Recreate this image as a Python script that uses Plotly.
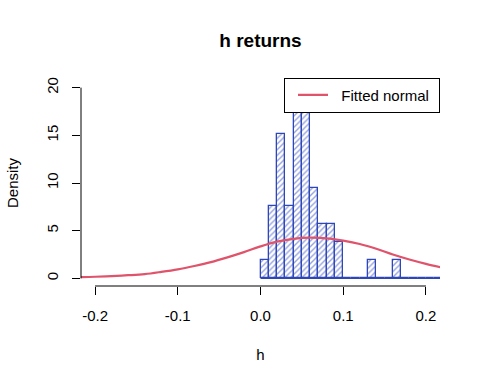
import plotly.graph_objects as go

# Histogram (density) bins: left edges, width 0.01
bin_left = [0.00, 0.01, 0.02, 0.03, 0.04, 0.05, 0.06, 0.07, 0.08, 0.09, 0.10,
            0.11, 0.12, 0.13, 0.14, 0.15, 0.16, 0.17, 0.18, 0.19, 0.20, 0.21]
bin_width = 0.01
density = [1.89, 7.55, 15.09, 7.55, 18.87, 18.87, 9.43, 5.66, 5.66, 3.77, 0.0,
           0.0, 0.0, 1.89, 0.0, 0.0, 1.89, 0.0, 0.0, 0.0, 0.0, 0.0]

# Fitted normal curve
curve_x = [-0.218, -0.20, -0.18, -0.16, -0.14, -0.12, -0.10, -0.08, -0.06, -0.04,
           -0.02, 0.00, 0.02, 0.04, 0.06, 0.08, 0.10, 0.12, 0.14, 0.16, 0.18,
           0.20, 0.218]
curve_y = [0.13, 0.17, 0.24, 0.33, 0.45, 0.68, 0.95, 1.30, 1.70, 2.20,
           2.75, 3.35, 3.85, 4.15, 4.27, 4.20, 3.95, 3.60, 3.10, 2.50, 1.98,
           1.52, 1.16]

x_ticks = [-0.2, -0.1, 0.0, 0.1, 0.2]
x_tick_labels = ["-0.2", "-0.1", "0.0", "0.1", "0.2"]
y_ticks = [0, 5, 10, 15, 20]
y_tick_labels = ["0", "5", "10", "15", "20"]

BLUE = "#2D46B9"
RED = "#DF536B"
FONT = "Liberation Sans, Arial, sans-serif"
NB = "\u00a0"

bin_centers = [b + bin_width / 2 for b in bin_left]

fig = go.Figure()
fig.add_trace(go.Bar(
    x=bin_centers, y=density, width=bin_width,
    marker=dict(color="white", line=dict(color=BLUE, width=1.3),
                pattern=dict(shape="/", fgcolor=BLUE, bgcolor="white",
                             size=4, solidity=0.35)),
    showlegend=False, hoverinfo="skip",
))
# histogram baseline (zero-height bins)
fig.add_trace(go.Scatter(
    x=[bin_left[0], bin_left[-1] + bin_width], y=[0, 0], mode="lines",
    line=dict(color=BLUE, width=1.3), showlegend=False, hoverinfo="skip",
))
fig.add_trace(go.Scatter(
    x=curve_x, y=curve_y, mode="lines", name=NB * 2 + "Fitted normal" + NB,
    line=dict(color=RED, width=2.2, shape="spline"),
))

# axis spines spanning first to last tick (R style)
fig.add_shape(type="line", xref="x", yref="paper",
              x0=x_ticks[0], x1=x_ticks[-1], y0=0, y1=0,
              line=dict(color="black", width=1))
fig.add_shape(type="line", xref="paper", yref="y",
              x0=0, x1=0, y0=y_ticks[0], y1=y_ticks[-1],
              line=dict(color="black", width=1))

fig.update_layout(
    width=480, height=384, autosize=False,
    margin=dict(l=78, r=40, t=80, b=98, pad=0),
    paper_bgcolor="white", plot_bgcolor="white",
    font=dict(family=FONT, size=15, color="black"),
    title=dict(text="<b>h returns</b>", font=dict(size=19, family=FONT, color="black"),
               x=0.5, xref="paper", xanchor="center",
               y=1 - 40 / 384, yref="container", yanchor="middle"),
    bargap=0,
    showlegend=True,
    legend=dict(x=1, xanchor="right", y=1.012, yanchor="top",
                bgcolor="white", bordercolor="black", borderwidth=1,
                itemwidth=30, indentation=8,
                font=dict(size=15, family=FONT)),
    xaxis=dict(range=[-0.217, 0.217], showgrid=False, zeroline=False,
               showline=False, ticks="outside", ticklen=8, tickcolor="black",
               tickwidth=1, tickvals=x_ticks, ticktext=x_tick_labels,
               ticklabelstandoff=8,
               title=dict(text="h", standoff=26, font=dict(size=15))),
    yaxis=dict(range=[-0.8, 20.8], showgrid=False, zeroline=False,
               showline=False, ticks="outside", ticklen=8, tickcolor="black",
               tickwidth=1, tickvals=y_ticks, ticktext=y_tick_labels,
               tickangle=-90, ticklabelstandoff=8,
               title=dict(text="Density", standoff=21, font=dict(size=15))),
)

fig.write_html("out.html", config={"displayModeBar": False},
               post_script="document.body.style.margin='0';document.body.style.overflow='hidden';")
